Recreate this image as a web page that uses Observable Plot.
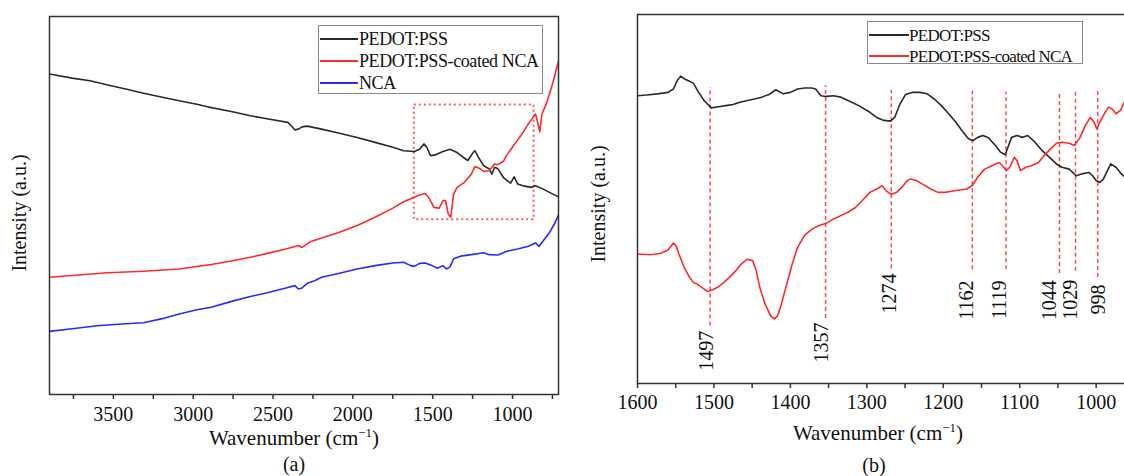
<!DOCTYPE html>
<html><head><meta charset="utf-8">
<script src="https://cdn.jsdelivr.net/npm/d3@7"></script>
<script src="https://cdn.jsdelivr.net/npm/@observablehq/plot@0.6"></script>
<style>
html,body{margin:0;padding:0;background:#fff;}
body{width:1124px;height:476px;overflow:hidden;position:relative;font-family:"Liberation Serif","DejaVu Serif",serif;color:#111;}
.abs{position:absolute;}
.abs svg{max-width:none !important;}
.lbl{position:absolute;transform:translate(-50%,-50%);white-space:nowrap;line-height:1;}
.ylbl{position:absolute;transform:translate(-50%,-50%) rotate(-90deg);white-space:nowrap;line-height:1;}
sup{font-size:0.62em;vertical-align:0.55em;line-height:0;}
.legend{position:absolute;border:1.5px solid #8a8a8a;overflow:hidden;background:#fff;box-sizing:border-box;}
.swatch{position:absolute;height:2px;}
.ltxt{position:absolute;white-space:nowrap;line-height:1;transform:translateY(-50%);}
</style></head><body>
<div id="a" class="abs" style="left:0;top:0;width:560px;height:476px"></div>
<div id="b" class="abs" style="left:560px;top:0;width:580px;height:476px"></div>
<div class="ylbl" style="left:19px;top:213px;font-size:20px">Intensity (a.u.)</div>
<div class="ylbl" style="left:598px;top:204px;font-size:20px">Intensity (a.u.)</div>
<div class="lbl" style="left:294px;top:438px;font-size:21px">Wavenumber (cm<sup>−1</sup>)</div>
<div class="lbl" style="left:878px;top:433px;font-size:21px">Wavenumber (cm<sup>−1</sup>)</div>
<div class="lbl" style="left:294px;top:464px;font-size:20px">(a)</div>
<div class="lbl" style="left:874px;top:465px;font-size:20px">(b)</div>
<script>
// ---- series names & colours ----
const seriesNames = ["PEDOT:PSS", "PEDOT:PSS-coated NCA", "NCA"];
const seriesColors = ["#2a2a2a", "#ff2a2a", "#2a2aff"];

// ---- panel (a): full spectra [wavenumber, intensity a.u.] ----
const aPedot = [[3899,84.8],[3758,83.7],[3646,83.0],[3535,81.9],[3423,80.8],[3311,79.7],[3200,78.7],[3088,77.7],[2977,76.8],[2910,76.1],[2754,74.8],[2642,73.75],[2530,72.9],[2407,72.0],[2385,71.1],[2363,70.0],[2341,70.2],[2318,70.8],[2285,71.0],[2196,70.2],[2084,69.1],[1973,68.0],[1861,66.7],[1749,65.4],[1682,64.5],[1615,64.3],[1582,64.9],[1555,66.3],[1537,65.4],[1514,63.2],[1481,63.4],[1436,64.3],[1392,64.9],[1347,64.0],[1314,62.9],[1280,61.9],[1247,64.0],[1236,64.5],[1213,62.7],[1180,60.5],[1146,59.7],[1129,58.3],[1113,60.1],[1091,59.7],[1057,57.4],[1012,55.9],[990,57.6],[968,55.7],[934,55.2],[879,54.8],[856,55.2],[811,54.4],[756,53.2],[709,52.2]];
const aCoated = [[3899,31.0],[3758,31.5],[3535,32.2],[3311,32.6],[3088,33.2],[2887,34.4],[2754,35.4],[2642,36.3],[2508,37.6],[2419,38.5],[2341,39.4],[2318,38.9],[2296,39.6],[2262,40.5],[2196,41.4],[2084,42.9],[1973,44.7],[1861,46.9],[1749,49.3],[1682,51.0],[1615,52.2],[1582,52.8],[1548,53.2],[1526,52.2],[1492,49.5],[1459,49.3],[1436,51.3],[1419,51.3],[1403,47.8],[1387,46.9],[1369,53.0],[1347,54.8],[1302,56.1],[1258,58.3],[1236,60.3],[1202,59.7],[1180,59.0],[1146,59.2],[1113,61.0],[1091,60.8],[1057,61.7],[1035,63.4],[1001,65.4],[979,66.7],[934,69.3],[901,71.6],[856,74.2],[845,72.4],[829,69.5],[816,74.2],[789,76.8],[756,81.2],[733,84.8],[709,88.7]];
const aNca = [[3899,16.7],[3758,17.4],[3602,18.2],[3423,18.7],[3311,19.0],[3200,20.0],[3088,21.3],[2977,22.4],[2887,23.1],[2754,24.7],[2642,25.9],[2530,27.0],[2419,28.2],[2363,28.8],[2341,27.9],[2318,28.2],[2285,29.4],[2240,30.1],[2196,31.0],[2084,32.1],[1973,33.2],[1861,34.1],[1749,34.8],[1682,35.0],[1638,34.1],[1615,33.9],[1582,34.7],[1548,34.8],[1504,34.1],[1470,33.4],[1436,34.1],[1414,33.2],[1392,33.7],[1369,35.9],[1325,36.6],[1258,37.0],[1180,37.5],[1146,37.0],[1091,36.9],[1035,37.9],[968,38.5],[901,39.2],[856,40.1],[834,39.2],[811,40.5],[767,42.9],[733,45.5],[709,47.8]];
const aZoomBox = [{x1: 1615, x2: 865, y1: 46.2, y2: 76.6}];
const aMajorTicks = [3500, 3000, 2500, 2000, 1500, 1000];
const aMinorTicks = [3750, 3250, 2750, 2250, 1750, 1250, 750];

// ---- panel (b): 1600-960 cm-1 region ----
const bPedot = [[1600,78.0],[1588,78.2],[1574,78.5],[1560,78.9],[1553,79.8],[1548,82.1],[1543.5,83.3],[1539,82.6],[1534,82.1],[1527,81.4],[1520,78.9],[1513,76.7],[1503.5,74.7],[1494,75.0],[1484.6,75.3],[1475,75.6],[1466,76.2],[1456.4,76.7],[1447,77.1],[1437.7,77.6],[1428,78.3],[1419,79.6],[1409.4,78.5],[1400,78.9],[1390.6,79.8],[1381,80.1],[1371.8,80.1],[1367,79.8],[1360,78.0],[1353,77.8],[1343.5,78.0],[1334,77.6],[1324.7,76.7],[1310.5,75.3],[1296,73.5],[1287,72.1],[1277.7,71.3],[1269,71.1],[1263.6,72.1],[1256.5,75.8],[1249.4,78.3],[1240,78.9],[1230.6,78.9],[1221,78.5],[1211.8,77.1],[1202.4,75.3],[1193,73.1],[1183.5,70.8],[1174,68.1],[1167,66.3],[1161,65.8],[1155,66.7],[1148,67.2],[1141,66.6],[1131.8,64.5],[1125,62.7],[1119,62.0],[1115.4,64.0],[1110.7,66.7],[1103.6,67.2],[1096.5,66.7],[1089.5,67.2],[1080,65.4],[1070.6,63.1],[1061,61.3],[1052,59.5],[1044.8,58.6],[1035.3,58.1],[1026,56.3],[1019,56.8],[1009.4,57.2],[1004.7,56.3],[1000,55.0],[995.3,54.5],[990.6,55.4],[981,59.5],[974,58.6],[967,56.8],[963.4,56.1],[958,55.6]];
const bCoated = [[1600,35.1],[1583.5,34.9],[1569.4,35.3],[1560,36.2],[1553,38.1],[1549.6,37.3],[1545.8,35.1],[1539,31.5],[1531.7,28.7],[1527,27.4],[1522.3,27.0],[1515,25.9],[1508,24.9],[1501,25.5],[1494,26.2],[1487,27.4],[1480,28.7],[1470.5,30.8],[1463.5,32.5],[1456.4,33.7],[1449.4,33.3],[1444.7,30.6],[1440,26.0],[1433,21.5],[1426,18.4],[1421,17.5],[1416.5,18.4],[1411.8,21.5],[1404.7,27.0],[1397.6,32.4],[1390.6,36.9],[1381,40.3],[1374,41.4],[1369.4,42.1],[1362.3,42.8],[1353,43.4],[1343.5,44.6],[1334,45.5],[1324.7,46.4],[1315,47.7],[1305.8,49.6],[1296,51.8],[1287,52.7],[1280,53.6],[1275,52.3],[1268,51.2],[1261,51.8],[1254,53.2],[1247,55.0],[1242.4,55.4],[1235.3,55.0],[1226,53.9],[1216.5,52.7],[1207,51.8],[1197.7,51.8],[1183.5,52.3],[1169.4,52.7],[1162.3,53.6],[1155,55.9],[1146,58.1],[1136.4,59.0],[1127,59.9],[1122.4,59.0],[1117.7,57.7],[1113,58.6],[1107,61.3],[1103.6,60.4],[1099,57.7],[1092,58.6],[1084.8,59.0],[1075.4,59.9],[1068,61.8],[1061,63.3],[1052,65.1],[1044.8,65.4],[1035.3,65.1],[1028.3,64.5],[1021,66.7],[1014.3,69.9],[1007.5,72.1],[1002.7,70.8],[999.3,69.0],[995.3,70.8],[988.3,73.5],[983.6,74.9],[979,74.4],[974,73.1],[968.1,74.0],[963.4,76.2],[958,78.0]];
const bMajorTicks = [1600, 1500, 1400, 1300, 1200, 1100, 1000];
const bMinorTicks = [1550, 1450, 1350, 1250, 1150, 1050, 950];

// peak markers
const peakLabels = ["1497", "1357", "1274", "1162", "1119", "1044", "1029", "998"];
const peakPos = [1505, 1354, 1268, 1162, 1118, 1048, 1027, 998];
const peakTop = [80.2, 80.7, 79.4, 79.2, 78.9, 78.3, 79.2, 79.6];
const peakBottom = [15.6, 17.6, 31.1, 30.8, 30.8, 29.8, 30.4, 28.7];
const peakLabelX = [1509, 1359, 1270, 1169, 1126, 1061, 1034, 997];
const peakLabelY = [14.3, 16.5, 29.8, 27.9, 27.9, 28.0, 28.1, 26.8];
const peaks = peakLabels.map((label, i) => ({label, pos: peakPos[i], top: peakTop[i], bottom: peakBottom[i], lx: peakLabelX[i], ly: peakLabelY[i]}));

// ---- drawing ----
const axisStyle = {stroke: "#333", strokeWidth: 1.5, label: null};
const curve = (data, color) => Plot.line(data, {x: d => d[0], y: d => d[1], stroke: color, strokeWidth: 1.6, clip: true});
const baseStyle = {fontFamily: "'Liberation Serif', 'DejaVu Serif', serif", fontSize: "20px", color: "#111", background: "transparent", overflow: "visible", maxWidth: "none"};

const plotA = Plot.plot({
  width: 560, height: 476, marginLeft: 49, marginRight: 2, marginTop: 16, marginBottom: 82,
  x: {domain: [3900, 712]}, y: {domain: [0, 100], axis: null},
  style: baseStyle,
  marks: [
    Plot.rect(aZoomBox, {x1: "x1", x2: "x2", y1: "y1", y2: "y2", fill: "none", stroke: "#ff5b5b", strokeWidth: 2, strokeDasharray: "2,3"}),
    curve(aPedot, seriesColors[0]),
    curve(aCoated, seriesColors[1]),
    curve(aNca, seriesColors[2]),
    Plot.axisX(aMinorTicks, {...axisStyle, tickSize: 5, tickFormat: () => ""}),
    Plot.axisX(aMajorTicks, {...axisStyle, tickSize: 5, tickPadding: 7, fontSize: 20, fill: "#111", tickFormat: d => String(d)}),
    Plot.frame({stroke: "#333", strokeWidth: 1.5})
  ]
});
document.getElementById("a").append(plotA);

const plotB = Plot.plot({
  width: 580, height: 476, marginLeft: 77, marginRight: 0, marginTop: 14, marginBottom: 93,
  x: {domain: [1600, 942]}, y: {domain: [0, 100], axis: null},
  style: baseStyle,
  marks: [
    Plot.ruleX(peaks, {x: "pos", y1: "bottom", y2: "top", stroke: "#ff4a4a", strokeWidth: 1.5, strokeDasharray: "4,3"}),
    curve(bPedot, seriesColors[0]),
    curve(bCoated, seriesColors[1]),
    Plot.text(peaks, {x: "lx", y: "ly", text: "label", rotate: -90, textAnchor: "end", lineAnchor: "middle", fontSize: 20, fill: "#111"}),
    Plot.axisX(bMinorTicks, {...axisStyle, tickSize: 5, tickFormat: () => ""}),
    Plot.axisX(bMajorTicks, {...axisStyle, tickSize: 5, tickPadding: 6, fontSize: 20, fill: "#111", tickFormat: d => String(d)}),
    Plot.frame({stroke: "#333", strokeWidth: 1.5})
  ]
});
document.getElementById("b").append(plotB);

// ---- legends (HTML) ----
function legend(box, entries, fontSize, spacing, rows, swatchW, textX) {
  const div = document.createElement("div");
  div.className = "legend";
  Object.assign(div.style, {left: box[0] + "px", top: box[1] + "px", width: box[2] + "px", height: box[3] + "px"});
  entries.forEach((e, i) => {
    const sw = document.createElement("div");
    sw.className = "swatch";
    Object.assign(sw.style, {left: "1px", top: (rows[i] - 1) + "px", width: swatchW + "px", background: e.color});
    const t = document.createElement("div");
    t.className = "ltxt";
    Object.assign(t.style, {left: textX + "px", top: rows[i] + "px", fontSize: fontSize + "px", letterSpacing: spacing + "px"});
    t.textContent = e.name;
    div.append(sw, t);
  });
  document.body.append(div);
}
legend([318, 25, 225, 69], seriesNames.map((n, i) => ({name: n, color: seriesColors[i]})), 18, -0.4, [13, 35, 57], 38, 40);
legend([867, 21, 216, 43], seriesNames.slice(0, 2).map((n, i) => ({name: n, color: seriesColors[i]})), 17, -0.7, [13, 34], 40, 41);
</script></body></html>
